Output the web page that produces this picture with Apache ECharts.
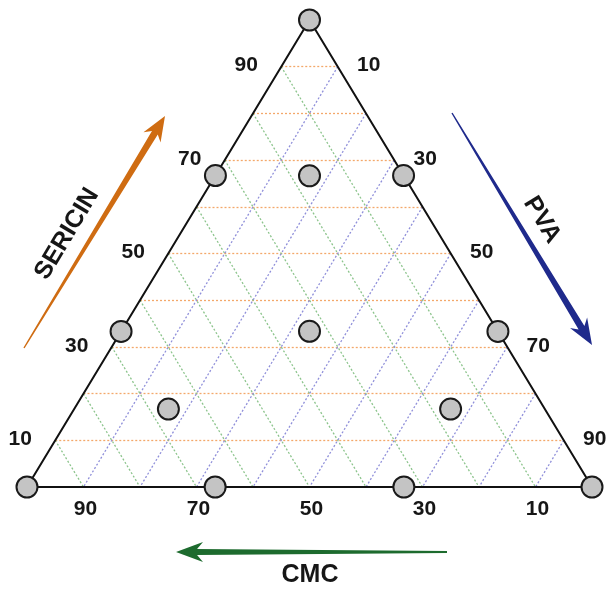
<!DOCTYPE html>
<html>
<head>
<meta charset="utf-8">
<script src="https://cdn.jsdelivr.net/npm/echarts@6/dist/echarts.min.js"></script>
<style>
  html, body { margin: 0; padding: 0; background: #fff; }
  #chart { width: 609px; height: 592px; }
</style>
</head>
<body>
<div id="chart"></div>
<script>
// Mixture design points: [SERICIN, CMC, PVA] in percent
const sericin = [100, 0, 0, 66.7, 33.3, 66.7, 33.3, 0, 0, 33.3, 66.7, 16.7, 16.7];
const cmc     = [0, 100, 0, 33.3, 66.7, 0, 0, 66.7, 33.3, 33.3, 16.7, 66.7, 16.7];
const pva     = [0, 0, 100, 0, 0, 33.3, 66.7, 33.3, 66.7, 33.3, 16.7, 16.7, 66.7];

// Tick labels shown on each side of the triangle
const tickValues = [10, 30, 50, 70, 90];
// Grid line levels
const gridLevels = [10, 20, 30, 40, 50, 60, 70, 80, 90];

// Ternary (S, C, P) -> cartesian (x, y) on a 0..100 plane
function toXY(s, c, p) {
  const t = s + c + p;
  s = s / t * 100; p = p / t * 100;
  return [p + s / 2, s];
}

// constant-SERICIN lines (horizontal, orange)
const sLines = gridLevels.map(v => ({ coords: [toXY(v, 100 - v, 0), toXY(v, 0, 100 - v)] }));
// constant-CMC lines (green)
const cLines = gridLevels.map(v => ({ coords: [toXY(100 - v, v, 0), toXY(0, v, 100 - v)] }));
// constant-PVA lines (blue)
const pLines = gridLevels.map(v => ({ coords: [toXY(100 - v, 0, v), toXY(0, 100 - v, v)] }));

const border = [toXY(100, 0, 0), toXY(0, 100, 0), toXY(0, 0, 100), toXY(100, 0, 0)];
const points = sericin.map((s, i) => toXY(s, cmc[i], pva[i]));

const sTicks = tickValues.map(v => ({ value: toXY(v, 100 - v, 0), name: String(v) }));
const pTicks = tickValues.map(v => ({ value: toXY(100 - v, 0, v), name: String(v) }));
const cTicks = tickValues.map(v => ({ value: toXY(0, v, 100 - v), name: String(v) }));

// Tapered arrow outline from tail to tip
function arrowPoints(x1, y1, x2, y2, w0, w1, hw, hl) {
  const dx = x2 - x1, dy = y2 - y1, L = Math.hypot(dx, dy);
  const ux = dx / L, uy = dy / L, nx = -uy, ny = ux;
  const bx = x2 - ux * hl, by = y2 - uy * hl;
  const jx = x2 - ux * hl * 0.78, jy = y2 - uy * hl * 0.78;
  return [
    [x1 + nx * w0, y1 + ny * w0],
    [jx + nx * w1, jy + ny * w1],
    [bx + nx * hw, by + ny * hw],
    [x2, y2],
    [bx - nx * hw, by - ny * hw],
    [jx - nx * w1, jy - ny * w1],
    [x1 - nx * w0, y1 - ny * w0]
  ];
}

const FONT = '"Liberation Sans", Arial, sans-serif';

function tickSeries(data, offset) {
  return {
    type: 'scatter', data: data, symbolSize: 1, silent: true,
    itemStyle: { opacity: 0 },
    label: {
      show: true, position: 'inside', offset: offset, formatter: p => p.name,
      fontFamily: FONT, fontWeight: 'bold', fontSize: 21, color: '#161616', opacity: 1
    },
    z: 5
  };
}

function gridSeries(data, color) {
  return {
    type: 'lines', coordinateSystem: 'cartesian2d', data: data, silent: true,
    lineStyle: { color: color, width: 1.3, type: [2, 2], opacity: 1 }, z: 1
  };
}

const chart = echarts.init(document.getElementById('chart'), null, { renderer: 'canvas' });
chart.setOption({
  animation: false,
  backgroundColor: '#ffffff',
  grid: { left: 27, right: 17, top: 20, bottom: 105 },
  xAxis: { type: 'value', min: 0, max: 100, show: false },
  yAxis: { type: 'value', min: 0, max: 100, show: false },
  series: [
    gridSeries(sLines, '#f3a86a'),
    gridSeries(cLines, '#8cc48c'),
    gridSeries(pLines, '#9090da'),
    {
      type: 'line', data: border, symbol: 'none', silent: true,
      lineStyle: { color: '#111', width: 2 }, z: 3
    },
    {
      type: 'scatter', data: points, symbol: 'circle', symbolSize: 21,
      itemStyle: { color: '#c4c4c4', borderColor: '#1a1a1a', borderWidth: 2, opacity: 1 }, z: 10
    },
    tickSeries(sTicks, [-35, -1]),
    tickSeries(pTicks, [31, -1]),
    tickSeries(cTicks, [2, 22])
  ],
  graphic: [
    { type: 'polygon', shape: { points: arrowPoints(24, 348, 165, 116, 0.7, 3.4, 10, 25) }, style: { fill: '#cf6c12' } },
    { type: 'polygon', shape: { points: arrowPoints(452, 113, 592, 345, 0.7, 3.4, 10, 26) }, style: { fill: '#1f2a8c' } },
    { type: 'polygon', shape: { points: arrowPoints(447, 552, 176, 552, 1, 3, 10, 27) }, style: { fill: '#1d6b2e' } },
    {
      type: 'text', x: 67, y: 234, rotation: 59 * Math.PI / 180,
      style: { text: 'SERICIN', fill: '#161616', font: 'bold 25px ' + FONT, align: 'center', verticalAlign: 'middle' }
    },
    {
      type: 'text', x: 542, y: 220, rotation: -59 * Math.PI / 180,
      style: { text: 'PVA', fill: '#161616', font: 'bold 25px ' + FONT, align: 'center', verticalAlign: 'middle' }
    },
    {
      type: 'text', x: 310, y: 575,
      style: { text: 'CMC', fill: '#161616', font: 'bold 25px ' + FONT, align: 'center', verticalAlign: 'middle' }
    }
  ]
});
</script>
</body>
</html>
